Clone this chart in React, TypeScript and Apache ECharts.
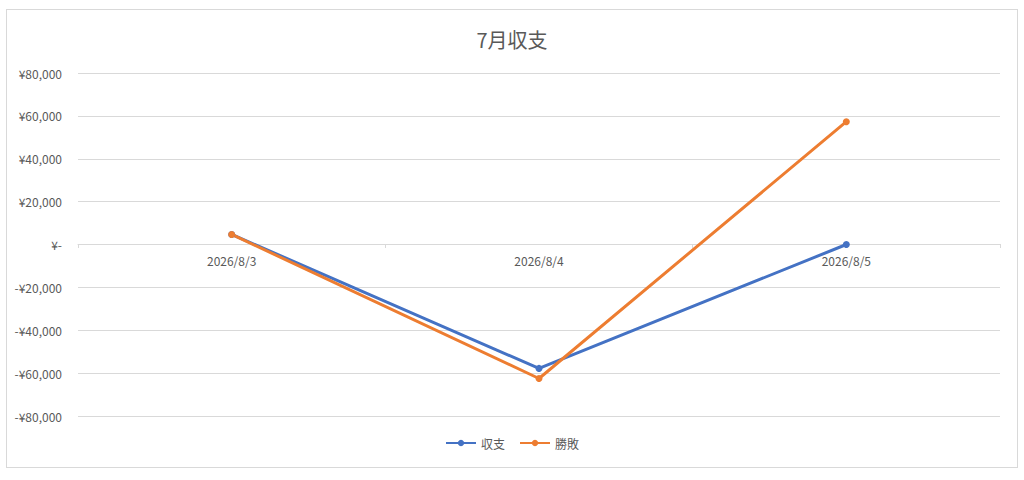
import { useEffect, useRef } from 'react'
import * as echarts from 'echarts'

const dates = ['2026/8/3', '2026/8/4', '2026/8/5']
const balance = [4700, -57800, 0]
const winLoss = [4700, -62500, 57300]
const seriesNames = ['収支', '勝敗']

const FONT = '"Noto Sans CJK JP", "Noto Sans", sans-serif'

// Excel風の通貨表示: ¥80,000 / ¥- / -¥20,000
const yen = (v: number) => {
  if (v === 0) return '¥-'
  const s = '¥' + Math.abs(v).toLocaleString('en-US')
  return v < 0 ? '-' + s : s
}

export default function App() {
  const chartRef = useRef<HTMLDivElement>(null)

  useEffect(() => {
    if (!chartRef.current) return
    const chart = echarts.init(chartRef.current, undefined, { renderer: 'svg' })

    const option: echarts.EChartsOption = {
      animation: false,
      title: {
        text: '7月収支',
        left: 'center',
        top: 24,
        textStyle: { fontFamily: FONT, fontSize: 20, fontWeight: 'normal', color: '#595959' },
      },
      legend: {
        data: seriesNames,
        bottom: 26,
        left: 'center',
        itemWidth: 30,
        itemHeight: 8,
        itemGap: 14,
        textStyle: { fontFamily: FONT, fontSize: 12, color: '#595959' },
      },
      grid: { left: 78, right: 24, top: 73, bottom: 64 },
      xAxis: {
        type: 'category',
        data: dates,
        position: 'bottom',
        // 横軸は0の位置に置く（-80,000〜0 の距離だけ上へ）
        offset: -172,
        axisLine: { onZero: false, lineStyle: { color: '#d9d9d9' } },
        axisTick: { show: true, length: 4, lineStyle: { color: '#d9d9d9' } },
        axisLabel: { fontFamily: FONT, fontSize: 12, color: '#595959', margin: 10 },
      },
      yAxis: {
        type: 'value',
        min: -80000,
        max: 80000,
        interval: 20000,
        axisLine: { show: false },
        axisTick: { show: false },
        splitLine: { lineStyle: { color: '#d9d9d9' } },
        axisLabel: {
          fontFamily: FONT,
          fontSize: 12,
          color: '#595959',
          margin: 16,
          formatter: (v: number) => yen(v),
        },
      },
      series: [
        {
          name: seriesNames[0],
          type: 'line',
          data: balance,
          symbol: 'circle',
          symbolSize: 7,
          lineStyle: { width: 3, color: '#4472C4' },
          itemStyle: { color: '#4472C4' },
        },
        {
          name: seriesNames[1],
          type: 'line',
          data: winLoss,
          symbol: 'circle',
          symbolSize: 7,
          lineStyle: { width: 3, color: '#ED7D31' },
          itemStyle: { color: '#ED7D31' },
        },
      ],
    }

    chart.setOption(option)
    return () => chart.dispose()
  }, [])

  return (
    <div style={{ position: 'absolute', left: 0, top: 0, width: 1024, height: 480, background: '#fff' }}>
      <div
        style={{
          position: 'absolute',
          left: 6,
          top: 9,
          width: 1010,
          height: 457,
          border: '1px solid #d9d9d9',
        }}
      />
      <div ref={chartRef} style={{ position: 'absolute', left: 0, top: 0, width: 1024, height: 480 }} />
    </div>
  )
}
